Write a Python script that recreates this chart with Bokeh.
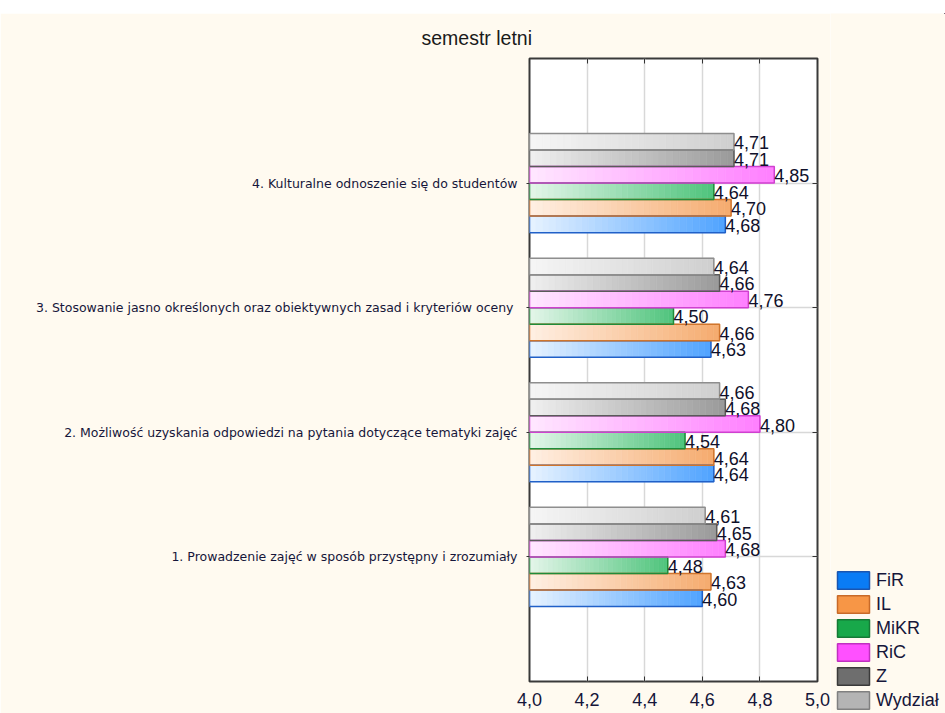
from bokeh.plotting import figure
from bokeh.models import (ColumnDataSource, FixedTicker, CustomJSTickFormatter, LinearAxis,
                          Range1d, Legend, LegendItem, Spacer)
from bokeh.layouts import column, row
from bokeh.embed import file_html
from bokeh.resources import INLINE
from bokeh.core.properties import value

# ---------------- data ----------------
categories = [
    "1. Prowadzenie zajęć w sposób przystępny i zrozumiały",
    "2. Możliwość uzyskania odpowiedzi na pytania dotyczące tematyki zajęć",
    "3. Stosowanie jasno określonych  oraz obiektywnych zasad i kryteriów oceny",
    "4. Kulturalne odnoszenie się do studentów",
]
series = ["FiR", "IL", "MiKR", "RiC", "Z", "Wydział"]
FiR = [4.60, 4.64, 4.63, 4.68]
IL = [4.63, 4.64, 4.66, 4.70]
MiKR = [4.48, 4.54, 4.50, 4.64]
RiC = [4.68, 4.80, 4.76, 4.85]
Z = [4.65, 4.68, 4.66, 4.71]
Wydzial = [4.61, 4.66, 4.64, 4.71]
values = [FiR, IL, MiKR, RiC, Z, Wydzial]
x_ticks = [4.0, 4.2, 4.4, 4.6, 4.8, 5.0]
cat_ticks = [1, 2, 3, 4]

# ---------------- styles ----------------
grad_start = ["#e8f3ff", "#fff0e4", "#e4f6ea", "#ffe8ff", "#f0f0f0", "#f6f6f6"]
grad_end = ["#4fa3ff", "#f5ab6e", "#4fc47c", "#ff7fff", "#9a9a9a", "#cfcfcf"]
bar_line = ["#2060c8", "#d0752c", "#1f8c3a", "#d040d0", "#5a5a5a", "#8e8e8e"]
leg_fill = ["#0a7cf5", "#f79646", "#18a84a", "#ff50ff", "#6e6e6e", "#b4b4b4"]
leg_line = ["#1a55b0", "#c86a28", "#157a36", "#c030c0", "#3a3a3a", "#808080"]
step = 0.1325
bar_h = 0.1325
offsets = [-2.5, -1.5, -0.5, 0.5, 1.5, 2.5]
NSL = 30
txt_col = "#16163a"
cream = "#fffaf0"


def hex2rgb(h):
    h = h.lstrip("#")
    return tuple(int(h[i:i + 2], 16) for i in (0, 2, 4))


def mix(a, b, t):
    ra, rb = hex2rgb(a), hex2rgb(b)
    return "#%02x%02x%02x" % tuple(int(round(ra[i] + (rb[i] - ra[i]) * t)) for i in range(3))


p = figure(width=830, height=700, x_range=Range1d(4.0, 5.0), y_range=Range1d(0, 5),
           output_backend="svg", toolbar_location=None,
           min_border_left=529, min_border_right=13, min_border_top=45, min_border_bottom=32)
p.border_fill_color = cream
p.background_fill_color = "white"
p.outline_line_color = "#3a3a3a"
p.outline_line_width = 2

p.title.text = "semestr letni"
p.title.align = "left"
p.title.offset = -108
p.title.standoff = 19
p.title.text_font = "Liberation Sans"
p.title.text_font_size = "19.5px"
p.title.text_font_style = "normal"
p.title.text_color = "#1a1a1a"

# gradient slices
sl = dict(y=[], left=[], right=[], color=[])
out = dict(y=[], left=[], right=[], line=[])
lab = dict(x=[], y=[], text=[])
for s, vals in enumerate(values):
    for i, v in enumerate(vals):
        yc = cat_ticks[i] + offsets[s] * step
        for k in range(NSL):
            l = 4.0 + (v - 4.0) * k / NSL
            r = 4.0 + (v - 4.0) * (k + 1) / NSL
            sl["y"].append(yc)
            sl["left"].append(l)
            sl["right"].append(r)
            sl["color"].append(mix(grad_start[s], grad_end[s], (k + 0.5) / NSL))
        out["y"].append(yc)
        out["left"].append(4.0)
        out["right"].append(v)
        out["line"].append(bar_line[s])
        lab["x"].append(v)
        lab["y"].append(yc)
        lab["text"].append(f"{v:.2f}".replace(".", ","))

p.hbar(y="y", left="left", right="right", height=bar_h, fill_color="color",
       line_color="color", line_width=0.6, source=ColumnDataSource(sl))
p.hbar(y="y", left="left", right="right", height=bar_h, fill_color=None,
       line_color="line", line_width=1.5, source=ColumnDataSource(out))
p.text(x="x", y="y", text="text", source=ColumnDataSource(lab),
       text_font=value("Liberation Sans"), text_font_size="18px", text_color="#10102a",
       text_align="left", text_baseline="middle", x_offset=0, y_offset=1)

# axes
xa = p.xaxis[0]
xa.ticker = FixedTicker(ticks=x_ticks)
xa.formatter = CustomJSTickFormatter(code="return tick.toFixed(1).replace('.', ',');")
xa.major_tick_in = 5
xa.major_tick_out = 0
xa.minor_tick_line_color = None
xa.axis_line_color = None
xa.major_tick_line_color = "#333333"
xa.major_label_standoff = 11
xa.major_label_text_font = "Liberation Sans"
xa.major_label_text_font_size = "18px"
xa.major_label_text_color = txt_col

ya = p.yaxis[0]
ya.ticker = FixedTicker(ticks=cat_ticks)
ya.major_label_overrides = {t: c for t, c in zip(cat_ticks, categories)}
ya.major_tick_in = 0
ya.major_tick_out = 3
ya.minor_tick_line_color = None
ya.axis_line_color = None
ya.major_tick_line_color = "#333333"
ya.major_label_standoff = 9
ya.major_label_text_font = "DejaVu Sans"
ya.major_label_text_font_size = "12.5px"
ya.major_label_text_color = txt_col

blank = CustomJSTickFormatter(code="return '';")
top_ax = LinearAxis(ticker=FixedTicker(ticks=x_ticks), formatter=blank, major_tick_in=5,
                    major_tick_out=0, minor_tick_line_color=None, axis_line_color=None,
                    major_label_standoff=0, major_tick_line_color="#333333")
p.add_layout(top_ax, "above")
right_ax = LinearAxis(ticker=FixedTicker(ticks=cat_ticks), formatter=blank, major_tick_in=5,
                      major_tick_out=0, minor_tick_line_color=None, axis_line_color=None,
                      major_label_standoff=0, major_tick_line_color="#333333")
p.add_layout(right_ax, "right")

p.xgrid.ticker = FixedTicker(ticks=[4.2, 4.4, 4.6, 4.8])
p.xgrid.grid_line_color = "#d8d8d8"
p.xgrid.grid_line_width = 1.5
p.ygrid.ticker = FixedTicker(ticks=cat_ticks)
p.ygrid.grid_line_color = "#d8d8d8"
p.ygrid.grid_line_width = 1.5

# ---------------- legend panel ----------------
lp = figure(width=115, height=700, x_range=Range1d(-10, -9), y_range=Range1d(-10, -9),
            output_backend="svg", toolbar_location=None, min_border=0, title=None,
            x_axis_location=None, y_axis_location=None)
lp.border_fill_color = cream
lp.background_fill_color = cream
lp.outline_line_color = None
lp.xgrid.visible = False
lp.ygrid.visible = False
items = []
for s, name in enumerate(series):
    # real series data; lies outside this panel's range so only the legend swatch shows
    r = lp.hbar(y=cat_ticks, left=4.0, right=values[s], height=bar_h,
                fill_color=leg_fill[s], line_color=leg_line[s], line_width=1.5)
    items.append(LegendItem(label=name, renderers=[r]))
legend = Legend(items=items, location=(3, 2), orientation="vertical",
                glyph_width=40, glyph_height=22, label_height=22, spacing=2,
                label_standoff=3, padding=0, margin=0, border_line_color=None,
                background_fill_alpha=0, label_text_font="Liberation Sans",
                label_text_font_size="18px", label_text_color=txt_col)
lp.add_layout(legend, "center")

layout = column(Spacer(width=945, height=13), row(p, column(lp), spacing=0), spacing=0)
open("out.html", "w").write(file_html(layout, INLINE))
